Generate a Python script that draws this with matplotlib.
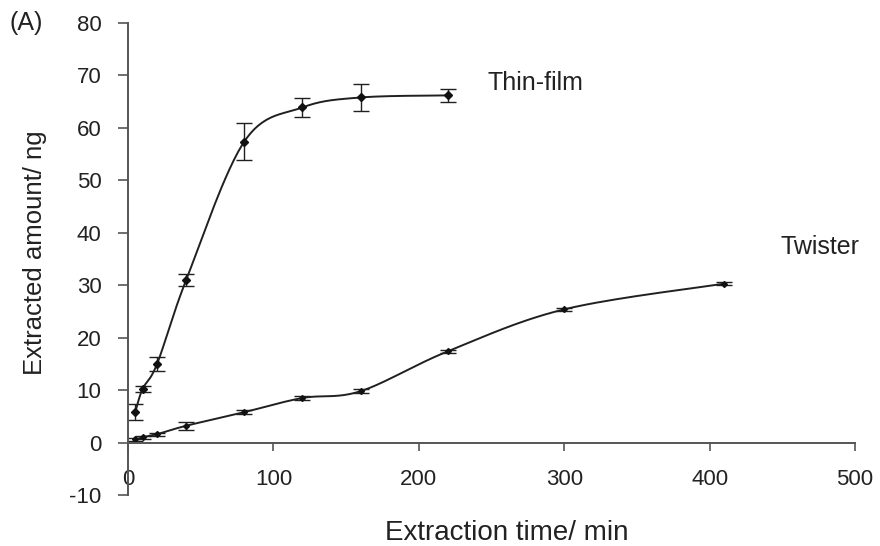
#! /usr/bin/env python

# extracted amount vs extraction time, thin-film vs twister

import numpy as np
import matplotlib
matplotlib.use('Agg')
import matplotlib.pyplot as plt

plt.rcParams['font.family'] = ['Liberation Sans', 'DejaVu Sans']
plt.rcParams['axes.unicode_minus'] = False

# thin-film
t_film = [5, 10, 20, 40, 80, 120, 160, 220]
y_film = [5.8, 10.2, 15.0, 31.0, 57.4, 63.9, 65.8, 66.2]
e_film = [1.5, 0.6, 1.3, 1.2, 3.5, 1.8, 2.5, 1.3]

# twister
t_tw = [5, 10, 20, 40, 80, 120, 160, 220, 300, 410]
y_tw = [0.6, 1.0, 1.6, 3.2, 5.8, 8.5, 9.8, 17.4, 25.4, 30.3]
e_tw = [0.3, 0.3, 0.3, 0.8, 0.4, 0.3, 0.4, 0.3, 0.3, 0.3]

x_ticks = [0, 100, 200, 300, 400, 500]
y_ticks = [-10, 0, 10, 20, 30, 40, 50, 60, 70, 80]


def smooth(x, y, n=30):
    # excel style bezier smoothing through the points
    x = np.asarray(x, float)
    y = np.asarray(y, float)
    p = np.column_stack([x, y])
    pp = np.vstack([p[0], p, p[-1]])
    out = []
    s = np.linspace(0, 1, n)[:, None]
    for i in range(len(p) - 1):
        p0, p3 = pp[i + 1], pp[i + 2]
        c1 = p0 + (pp[i + 2] - pp[i]) / 6.0
        c2 = p3 - (pp[i + 3] - pp[i + 1]) / 6.0
        seg = ((1 - s)**3 * p0 + 3 * (1 - s)**2 * s * c1
               + 3 * (1 - s) * s**2 * c2 + s**3 * p3)
        out.append(seg)
    out = np.vstack(out)
    return out[:, 0], out[:, 1]


fig = plt.figure(figsize=(8.8, 5.46), dpi=100)
ax = fig.add_axes([128/880, 1 - 495/546, 727/880, 472/546])

xs, ys = smooth(t_film, y_film)
ax.plot(xs, ys, color='#202020', lw=1.4)
ax.errorbar(t_film, y_film, yerr=e_film, fmt='D', color='#111111',
            ms=4.5, ecolor='#202020', elinewidth=1.0, capsize=6, capthick=1.0)

xs, ys = smooth(t_tw, y_tw)
ax.plot(xs, ys, color='#202020', lw=1.4)
ax.errorbar(t_tw, y_tw, yerr=e_tw, fmt='D', color='#111111',
            ms=3, ecolor='#202020', elinewidth=1.0, capsize=6, capthick=1.0)

ax.set_xlim(0, 500)
ax.set_ylim(-10, 80)
ax.set_xticks(x_ticks)
ax.set_yticks(y_ticks)

for s in ['top', 'right']:
    ax.spines[s].set_visible(False)
ax.spines['bottom'].set_position(('data', 0))
ax.spines['bottom'].set_color('#555555')
ax.spines['left'].set_color('#555555')
ax.spines['bottom'].set_linewidth(1.4)
ax.spines['left'].set_linewidth(1.4)

ax.tick_params(axis='y', direction='out', length=7, width=1.2, pad=12,
               labelsize=16, colors='#555555', labelcolor='#222222')
ax.tick_params(axis='x', direction='out', length=6, width=1.2, pad=13,
               labelsize=16, colors='#555555', labelcolor='#222222')

ax.set_xlabel('Extraction time/ min', fontsize=20, color='#222222')
ax.set_ylabel('Extracted amount/ ng', fontsize=18.5, color='#222222')
ax.xaxis.set_label_coords(0.521, -0.08)
ax.xaxis.label.set_va('center')
ax.yaxis.set_label_coords(-0.128, 0.513)
ax.yaxis.label.set_va('center')

ax.text(247, 68.5, 'Thin-film', fontsize=18, va='center', color='#222222')
ax.text(449, 37.2, 'Twister', fontsize=18, va='center', color='#222222')
fig.text(9/880, 1 - 23/546, '(A)', fontsize=18, va='center', color='#222222')

plt.savefig('out.png', dpi=100)
